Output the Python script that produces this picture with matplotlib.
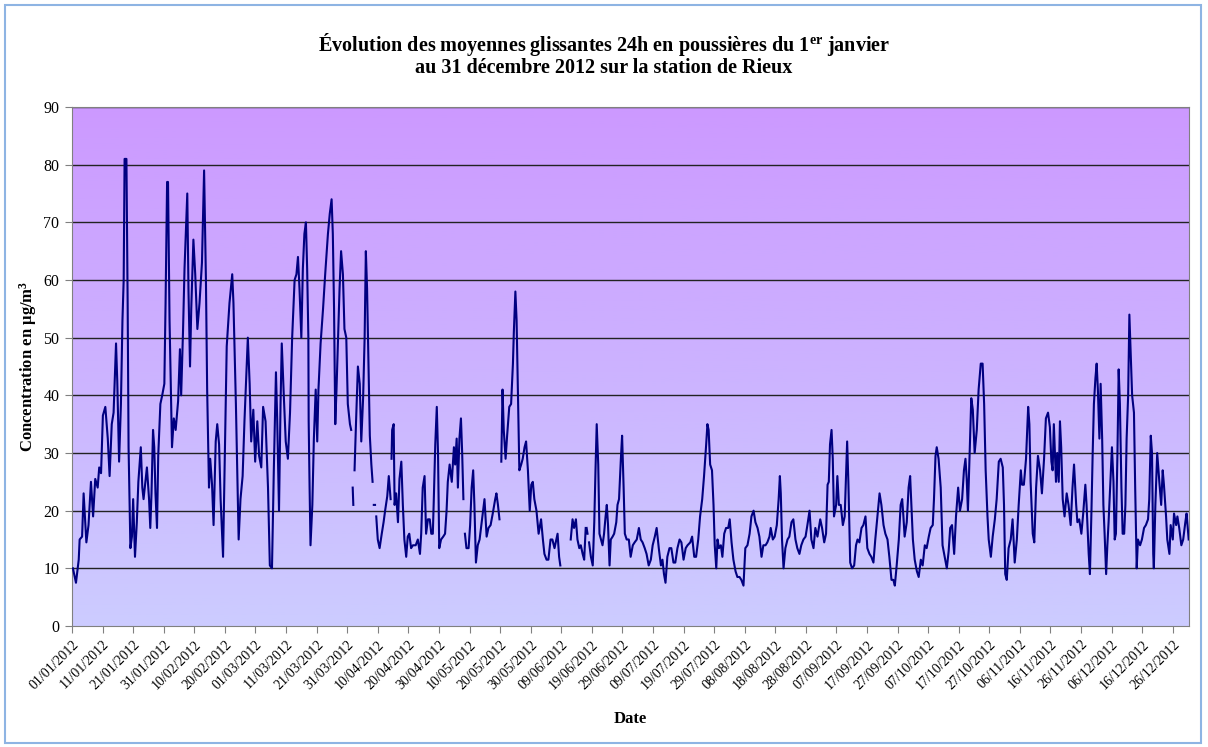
import numpy as np
import pandas as pd
import matplotlib
matplotlib.use('Agg')
import matplotlib.pyplot as plt
from matplotlib.patches import Rectangle
from matplotlib.colors import LinearSegmentedColormap

plt.rcParams['font.family'] = 'Liberation Serif'
plt.rcParams['mathtext.fontset'] = 'custom'
plt.rcParams['mathtext.rm'] = 'Liberation Serif:bold'
plt.rcParams['mathtext.bf'] = 'Liberation Serif:bold'
plt.rcParams['mathtext.it'] = 'Liberation Serif:bold'

nan = np.nan

# day of year (0 = 01/01/2012) and 24h moving average (µg/m3)
# nan = missing data
days = [
    0.3, 1.3, 2.2, 2.5, 3.3, 3.8, 4.7, 5.4, 6.2, 6.9, 7.6, 8.4, 8.9, 9.5, 10.1, 10.9, 11.7, 12.3, 13, 13.6,
    14.4, 14.8, 15.4, 16, 16.5, 16.9, 17.2, 17.8, 18.2, 18.5, 19.1, 19.6, 20, 20.6, 21.2, 21.7, 22.5, 23, 23.4,
    24.1, 24.5, 25.2, 25.6, 26, 26.5, 26.9, 27.3, 27.8, 28.2, 28.9, 29.5, 30.2, 30.6, 31.1, 31.4, 31.9, 32.7,
    33.3, 33.9, 34.7, 35.3, 35.7, 36.3, 36.8, 37.7, 38.1, 38.6, 39, 39.7, 40.3, 41, 41.7, 42.5, 43.2, 43.8,
    44.2, 44.8, 45.2, 45.8, 46.3, 47, 47.5, 48.1, 48.6, 49.4, 49.9, 50.6, 51.5, 52.4, 52.8, 53.6, 54.5, 55.1,
    55.8, 56.4, 57.1, 57.5, 58.1, 58.6, 59.3, 59.9, 60.6, 61.2, 61.9, 62.5, 63.3, 64.1, 64.7, 65.4, 66, 66.7,
    67.1, 67.7, 68.2, 68.6, 69.3, 69.9, 70.6, 71.3, 72, 72.8, 73.4, 73.9, 74.4, 75, 75.5, 76, 76.5, 76.9, 77.3,
    77.4, 77.7, 78, 78.6, 79.1, 79.7, 80.2, 80.6, 81.3, 82.1, 82.8, 83.7, 84.3, 84.9, 85.3, 85.7, 86.1, 86.5,
    87, 87.5, 88, 88.6, 89.1, 89.7, 90.2, 90.9, 91.3,
    91.5, 91.8, 92.0, 92.2,
    92.4, 92.9, 93.5, 94.1, 94.6, 95.2, 95.7, 96.1, 96.5, 97, 97.4, 97.9, 98.3,
    98.5, 98.7, 99.1, 99.3,
    99.5, 100, 100.6, 101.3, 101.9, 102.4, 103.1, 103.6, 104.2,
    104.4, 104.5, 104.7, 105.2, 105.5, 106, 106.6, 107.1, 107.7, 108.2, 108.7, 109.3, 109.8, 110.3, 110.9,
    111.5, 112.4, 113.1, 113.8, 114.2, 114.7, 115.3, 115.8, 116.4, 117, 117.5, 118, 118.3, 118.8, 119.3,
    119.7, 120.1, 120.7, 121.4, 122, 122.5, 122.9, 123.5, 124.2, 124.9, 125.3, 125.8, 126.2, 126.7, 127.2,
    127.6, 128,
    128.2,
    128.5, 129, 129.7, 130.2, 130.7, 131.2, 131.6, 132.1, 132.7, 133.3, 134, 134.9, 135.6, 136.2, 136.9,
    137.6, 138.4, 138.8, 139.3, 139.8,
    140.1,
    140.4, 140.8, 141.2, 141.8, 142.3, 143, 143.6, 144.2, 144.5, 145, 145.4, 145.8, 146.3, 146.9, 147.4, 148,
    148.5, 149.1, 149.7, 150.2, 150.7, 151.2, 151.9, 152.6, 153.4, 154, 154.5, 155.2, 155.8, 156.5, 157.1,
    157.8, 158.4, 158.8, 159.3, 159.7,
    161.0,
    163.1, 163.7, 164.2, 164.8, 165.3, 165.9, 166.4, 167, 167.5, 168,
    168.1, 168.3, 168.6, 168.8,
    169.1, 169.7, 170.3, 170.8, 171.2, 171.6, 172.1, 172.5, 173, 173.5, 174, 174.5, 174.9, 175.3, 175.8,
    176.2, 176.8, 177.3, 178, 178.4, 178.9, 179.5, 179.9, 180.4, 180.8, 181.4, 182.1, 182.7, 183.4, 184,
    184.7, 185.4, 186, 186.6, 187.3, 187.9, 188.6, 189.3, 189.9, 190.6, 191.2, 191.9, 192.6, 193.1, 193.6,
    194.1, 194.7, 195.4, 196, 196.7, 197.3, 198, 198.7, 199.3, 200, 200.7, 201.3, 202.2, 202.8, 203.5, 204.1,
    204.8, 205.4, 206.1, 206.7, 207.4, 207.8, 208.2, 208.7, 209.3, 209.8, 210.2, 210.7, 211.1, 211.6, 212.2,
    212.7, 213.3, 213.9, 214.6, 215.1, 215.7, 216.3, 217, 217.6, 218.3, 218.9, 219.6, 220.2, 220.9, 221.6,
    222.2, 222.9, 223.5, 224.2, 224.8, 225.5, 226.1, 226.8, 227.4, 228.1, 228.5, 229.2, 229.8, 230.5, 231.1,
    231.5, 231.8, 232.2, 232.7, 233.3, 234, 234.6, 235.3, 235.9, 236.6, 237.2, 237.9, 238.5, 239.2, 239.9,
    240.5, 241.2, 241.8, 242.5, 243.1, 243.8, 244.7, 245.3, 246, 246.6, 247.1, 247.5, 247.9, 248.4, 248.8,
    249.2, 249.9, 250.3, 250.8, 251.4, 252.1, 252.7, 253.2, 253.5, 253.9, 254.5, 255.1, 255.8, 256.4, 256.9,
    257.5, 258.2, 258.8, 259.5, 260.1, 260.8, 261.4, 262.1, 262.7, 263.4, 264.1, 264.7, 265.4, 266, 266.7,
    267.3, 268, 268.6, 269.1, 269.7, 270.4, 271, 271.5, 271.9, 272.3, 273, 273.6, 274.1, 274.5, 275, 275.6,
    276.3, 276.9, 277.6, 278.2, 278.9, 279.5, 280.2, 280.8, 281.5, 281.9, 282.4, 282.8, 283.4, 284.1, 284.7,
    285.4, 286.1, 286.7, 287.2, 287.8, 288.5, 289.1, 289.8, 290.4, 291.1, 291.7, 292.2, 292.6, 293, 293.7,
    294.1, 294.6, 295.2, 295.9, 296.5, 297.2, 297.8, 298.3, 298.8, 299.4, 299.8, 300.5, 301.1, 301.8, 302.4,
    303.1, 303.7, 304.4, 304.8, 305.2, 305.7, 306.3, 307, 307.6, 308.3, 309, 309.6, 310.3, 310.7, 311.3, 312,
    312.7, 313.1, 313.5, 314.2, 314.7, 315.3, 315.9, 316.6, 317.2, 317.9, 318.5, 319.2, 319.8, 320.3, 320.7,
    321.1, 321.8, 322.2, 322.7, 323.1, 323.5, 324, 324.6, 325.3, 325.9, 326.6, 327.2, 327.7, 328.4, 328.8,
    329.4, 330.1, 330.7, 331.4, 331.8, 332.5, 332.9, 333.4, 333.8, 334.2, 334.7, 335.1, 335.5, 336, 336.4,
    336.9, 337.3, 337.7, 338.2, 338.6, 339, 339.5, 340.1, 340.6, 341, 341.4, 341.9, 342.3, 342.7, 343.2,
    343.6, 344.1, 344.5, 344.9, 345.4, 345.8, 346.2, 346.7, 347.3, 347.7, 348.2, 348.6, 349.3, 349.9, 350.6,
    351.2, 351.9, 352.3, 352.8, 353.2, 353.6, 353.8, 354.3, 354.9, 355.6, 356.2, 356.7, 357.1, 357.8, 358.2,
    358.9, 359.3, 360, 360.4, 361.1, 361.5, 362.1, 362.8, 363.4, 364.1, 364.5, 365.2,
]

pm = [
    10, 7.5, 11.5, 15, 15.5, 23, 14.5, 17.5, 25, 19, 25.5, 24, 27.5, 26.5, 36.5, 38, 32.5, 26, 35, 37,
    49, 42.5, 28.5, 38.5, 53, 60, 81, 81, 56, 31, 13.5, 15.5, 22, 12, 18, 25, 31, 24, 22,
    25.5, 27.5, 22, 17, 23, 34, 31, 23, 17, 29.5, 38.5, 40, 42, 56, 77, 77, 53, 31,
    36, 34, 39, 48, 40, 51, 62, 75, 58, 45, 55, 67, 61, 51.5, 56, 63, 79, 60,
    41, 24, 29, 24.5, 17.5, 32, 35, 31.5, 22, 12, 27, 48.5, 56, 61, 56, 38.5, 15, 22,
    26, 35.5, 44.5, 50, 42, 32, 37.5, 28.5, 35.5, 29.5, 27.5, 38, 35.5, 24, 10.5, 10, 27, 44,
    36, 20, 38.5, 49, 39.5, 32, 29, 37, 50, 60, 61, 64, 58.5, 50, 62, 68, 70, 62, 50,
    35.5, 24, 14, 21, 32.5, 41, 32, 41, 49, 55, 61, 68, 71.5, 74, 68, 55, 35, 41,
    50, 58.5, 65, 61, 51.5, 50, 38.5, 35, 34,
    nan, 24, 21, nan,
    27, 35.5, 45, 42, 32, 39.5, 50, 65, 58.5, 44.5, 33, 28, 25,
    nan, 21, 21, nan,
    19, 15, 13.5, 16, 18, 20, 22.5, 26, 22,
    nan, 29, 34, 35, 21, 23, 18, 25.5, 28.5, 21, 15, 12, 15.5, 16, 13.5,
    14, 14, 15, 12.5, 16, 24, 26, 16, 18.5, 18.5, 16, 16, 21.5, 31.5, 38,
    30, 13.5, 15, 15.5, 16, 20, 25, 28, 25, 31, 28, 32.5, 24, 32.5, 36,
    30, 22,
    nan,
    16, 13.5, 13.5, 17.5, 24, 27, 21, 11, 14, 15, 18, 22, 15.5, 17, 17.5,
    19.5, 22, 23, 21, 18.5,
    nan,
    28.5, 41, 34, 29, 33, 38, 38.5, 45.5, 51, 58, 53, 41.5, 27, 28, 29, 31,
    32, 27, 20, 24.5, 25, 22, 20, 16, 18.5, 15, 12.5, 11.5, 11.5, 15, 15,
    13.5, 15, 16, 12, 10.5,
    nan,
    15, 18.5, 17, 18.5, 15, 13.5, 14, 12.5, 11.5, 17,
    nan, 17, 16, nan,
    14.5, 12, 10.5, 18, 27, 35, 28, 16, 15, 14, 16, 19, 21, 17.5, 10.5,
    15, 15.5, 16, 18, 21, 22, 29, 33, 24, 16, 15, 15, 12, 14, 14.5,
    15, 17, 15, 14.5, 13.5, 12.5, 10.5, 11.5, 14, 15.5, 17, 13.5, 10.5, 11.5, 9,
    7.5, 12, 13.5, 13.5, 11, 11, 13.5, 15, 14.5, 11.5, 13.5, 14, 14.5, 15.5, 12, 12,
    15, 19, 22, 26, 31.5, 35, 34, 28, 27, 21, 14, 10, 15, 13.5, 14,
    12, 16, 17, 17, 18.5, 14.5, 11.5, 9.5, 8.5, 8.5, 8, 7, 13.5, 14, 16,
    19, 20, 18, 17, 15.5, 12, 14, 14, 14.5, 15.5, 17, 15, 15.5, 17.5, 22,
    26, 23, 15, 10, 13.5, 15, 15.5, 18, 18.5, 15, 13.5, 12.5, 14, 15, 15.5,
    17.5, 20, 15, 13.5, 17, 15.5, 18.5, 17, 14.5, 16, 24.5, 25, 31.5, 34, 29,
    19, 21, 26, 21, 21, 17.5, 19, 27, 32, 25, 11, 10, 10.5, 14, 15,
    14.5, 17, 17.5, 19, 13.5, 12.5, 12, 11, 15, 19, 23, 21, 17.5, 16, 15,
    12, 8, 8, 7, 10.5, 15, 21, 22, 19, 15.5, 18, 24, 26, 21, 15, 11.5,
    9.5, 8.5, 11.5, 10.5, 14, 13.5, 15.5, 17, 17.5, 22, 29.5, 31, 29, 24, 14,
    12, 10, 13, 17, 17.5, 12.5, 19, 24, 20, 22, 27, 29, 25.5, 20, 32.5,
    39.5, 37.5, 30, 34, 41, 45.5, 45.5, 38.5, 27, 19, 15, 12, 15.5, 18.5, 22,
    28.5, 29, 27.5, 21, 9, 8, 13.5, 15, 18.5, 11, 15, 21, 27, 24.5, 24.5, 29,
    38, 35, 25, 16, 14.5, 24, 29.5, 27, 23, 29, 36, 37, 34.5, 28.5, 27,
    35, 25, 30, 25, 35.5, 31, 22, 19, 23, 21, 17.5, 24, 28, 21, 18,
    18.5, 16, 19.5, 24.5, 21, 12.5, 9, 20, 30, 38.5, 43, 45.5, 41, 32.5, 42,
    32.5, 21, 16, 9, 14, 18, 24, 31, 25, 15, 16, 30, 44.5, 38.5, 24,
    16, 16, 21, 32.5, 40, 54, 48, 40, 37, 24, 10, 15, 14, 15, 17,
    17.5, 18.5, 22, 33, 30, 12.5, 10, 21, 30, 25, 21, 27, 24.5, 19, 15,
    12.5, 17.5, 15, 19.5, 17.5, 19, 17, 14, 15, 18, 19.5, 15,
]

tick_days = list(range(0, 361, 10))
tick_labels = [d.strftime('%d/%m/%Y') for d in pd.Timestamp('2012-01-01') + pd.to_timedelta(tick_days, unit='D')]
y_ticks = list(range(0, 91, 10))

fig = plt.figure(figsize=(12.08, 7.47), dpi=100)
ax = fig.add_axes([72/1208, 1 - 626/747, (1189 - 72)/1208, (626 - 107)/747])

# purple -> lavender gradient background
cmap = LinearSegmentedColormap.from_list('bg', ['#CCCCFF', '#CC99FF'])
grad = np.linspace(0, 1, 256).reshape(-1, 1)
ax.imshow(grad, aspect='auto', cmap=cmap, origin='lower', extent=[0, 1, 0, 1],
          transform=ax.transAxes, zorder=0)

for y in y_ticks[1:]:
    ax.axhline(y, color='#222222', lw=1, zorder=1)

ax.plot(days, pm, color='#000080', lw=1.5, zorder=3)

ax.set_xlim(0, 365.3)
ax.set_ylim(0, 90)
ax.set_yticks(y_ticks)
ax.set_xticks(tick_days)
ax.set_xticklabels(tick_labels, rotation=45, ha='right', rotation_mode='anchor', fontsize=10)
ax.tick_params(axis='y', labelsize=11.5, length=5, color='#808080', pad=4)
ax.tick_params(axis='x', length=5, color='#808080')
for s in ax.spines.values():
    s.set_color('#808080')

ax.set_xlabel('Date', fontsize=12, fontweight='bold', labelpad=14)
ax.set_ylabel('Concentration en µg/m$^{3}$', fontsize=12, fontweight='bold', labelpad=3)

fig.text(0.5, 1 - 45/747, 'Évolution des moyennes glissantes 24h en poussières du 1$^{er}$ janvier',
         ha='center', va='center', fontsize=14.5, fontweight='bold')
fig.text(0.5, 1 - 68/747, 'au 31 décembre 2012 sur la station de Rieux',
         ha='center', va='center', fontsize=14.5, fontweight='bold')

fig.patches.append(Rectangle((5/1208, 4/747), 1196/1208, 738/747, transform=fig.transFigure,
                             fill=False, edgecolor='#8EB4E3', lw=1.5))

fig.savefig('out.png', dpi=100)
